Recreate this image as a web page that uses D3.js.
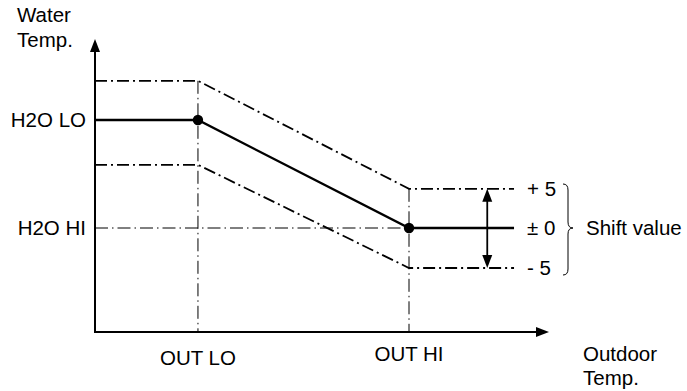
<!DOCTYPE html>
<html><head><meta charset="utf-8">
<script src="https://cdn.jsdelivr.net/npm/d3@7"></script>
<style>body{margin:0;background:#fff}</style>
</head><body><svg id="c" width="687" height="391"></svg>
<script>
// ---- data ----
const outdoor = [0, 1, 3.05, 4.07];          // axis origin, OUT LO, OUT HI, line end
const waterMain = [26.5, 26.5, 13, 13];      // heating curve (shift ±0)
const waterUpper = [31.4, 31.4, 17.9, 17.9]; // shift +5
const waterLower = [20.9, 20.9, 8, 8];       // shift -5
const xTickLabels = ["OUT LO", "OUT HI"];
const xTickValues = [1, 3.05];
const yTickLabels = ["H2O LO", "H2O HI"];
const yTickValues = [26.5, 13];
const shiftLabels = ["+ 5", "± 0", "- 5"];
const shiftValues = [17.9, 13, 8];
const arrowX = 3.81;

const svg = d3.select("#c");
const FONT = '"Liberation Sans",Arial,sans-serif';
const x = d3.scaleLinear().domain([0, 4.4]).range([95, 548]);
const y = d3.scaleLinear().domain([0, 36.5]).range([332, 40]);
const guideDash = "13,4,1.5,4";
const curveDash = "12,4,2,4";

function label(tx, ty, t, anchor) {
  return svg.append("text").attr("x", tx).attr("y", ty).attr("text-anchor", anchor || "start")
    .attr("font-family", FONT).attr("font-size", 20.5).attr("fill", "#000").text(t);
}

// vertical guide lines
xTickValues.forEach((v, i) => {
  const top = i === 0 ? waterUpper[1] : waterUpper[2];
  svg.append("line").attr("x1", x(v)).attr("x2", x(v)).attr("y1", y(top)).attr("y2", y(0))
    .attr("stroke", "#000").attr("stroke-width", 1).attr("stroke-dasharray", guideDash);
});
// H2O HI horizontal guide
svg.append("line").attr("x1", x(0)).attr("x2", x(outdoor[3])).attr("y1", y(yTickValues[1])).attr("y2", y(yTickValues[1]))
  .attr("stroke", "#000").attr("stroke-width", 1).attr("stroke-dasharray", guideDash);

const line = d3.line().x((d, i) => x(outdoor[i])).y(d => y(d));
[waterUpper, waterLower].forEach(arr => {
  svg.append("path").attr("d", line(arr)).attr("fill", "none").attr("stroke", "#000")
    .attr("stroke-width", 1.8).attr("stroke-dasharray", curveDash);
});
svg.append("path").attr("d", line(waterMain)).attr("fill", "none").attr("stroke", "#000").attr("stroke-width", 2.3);
[1, 2].forEach(i => svg.append("circle").attr("cx", x(outdoor[i])).attr("cy", y(waterMain[i])).attr("r", 5.2).attr("fill", "#000"));

// axes
svg.append("line").attr("x1", x(0)).attr("x2", x(0)).attr("y1", y(0) + 1).attr("y2", 50).attr("stroke", "#000").attr("stroke-width", 2);
svg.append("path").attr("d", `M${x(0)-5},52 L${x(0)},39 L${x(0)+5},52 Z`).attr("fill", "#000");
svg.append("line").attr("x1", x(0) - 1).attr("x2", 538).attr("y1", y(0)).attr("y2", y(0)).attr("stroke", "#000").attr("stroke-width", 2);
svg.append("path").attr("d", `M536,${y(0)-5} L549,${y(0)} L536,${y(0)+5} Z`).attr("fill", "#000");

// double arrow
const ax = x(arrowX), a1 = y(shiftValues[0]), a2 = y(shiftValues[2]);
svg.append("line").attr("x1", ax).attr("x2", ax).attr("y1", a1 + 8).attr("y2", a2 - 8).attr("stroke", "#000").attr("stroke-width", 1.8);
svg.append("path").attr("d", `M${ax-5},${a1+13} L${ax},${a1} L${ax+5},${a1+13} Z`).attr("fill", "#000");
svg.append("path").attr("d", `M${ax-5},${a2-13} L${ax},${a2} L${ax+5},${a2-13} Z`).attr("fill", "#000");

// labels
yTickLabels.forEach((t, i) => label(86, y(yTickValues[i]) + 7, t, "end"));
xTickLabels.forEach((t, i) => label(x(xTickValues[i]), i === 0 ? 365 : 361, t, "middle"));
shiftLabels.forEach((t, i) => label(527, y(shiftValues[i]) + 7, t));
label(17, 22, "Water");
label(17, 47, "Temp.");
label(583, 361, "Outdoor");
label(583, 385, "Temp.");
label(586, y(shiftValues[1]) + 7, "Shift value");

// brace
const bx = 563, bt = 184, bm = y(shiftValues[1]), bb = 275;
svg.append("path").attr("d",
  `M${bx},${bt} Q${bx+5},${bt} ${bx+5},${bt+6} L${bx+5},${bm-6} Q${bx+5},${bm} ${bx+10},${bm} Q${bx+5},${bm} ${bx+5},${bm+6} L${bx+5},${bb-6} Q${bx+5},${bb} ${bx},${bb}`)
  .attr("fill", "none").attr("stroke", "#000").attr("stroke-width", 1);
</script></body></html>
